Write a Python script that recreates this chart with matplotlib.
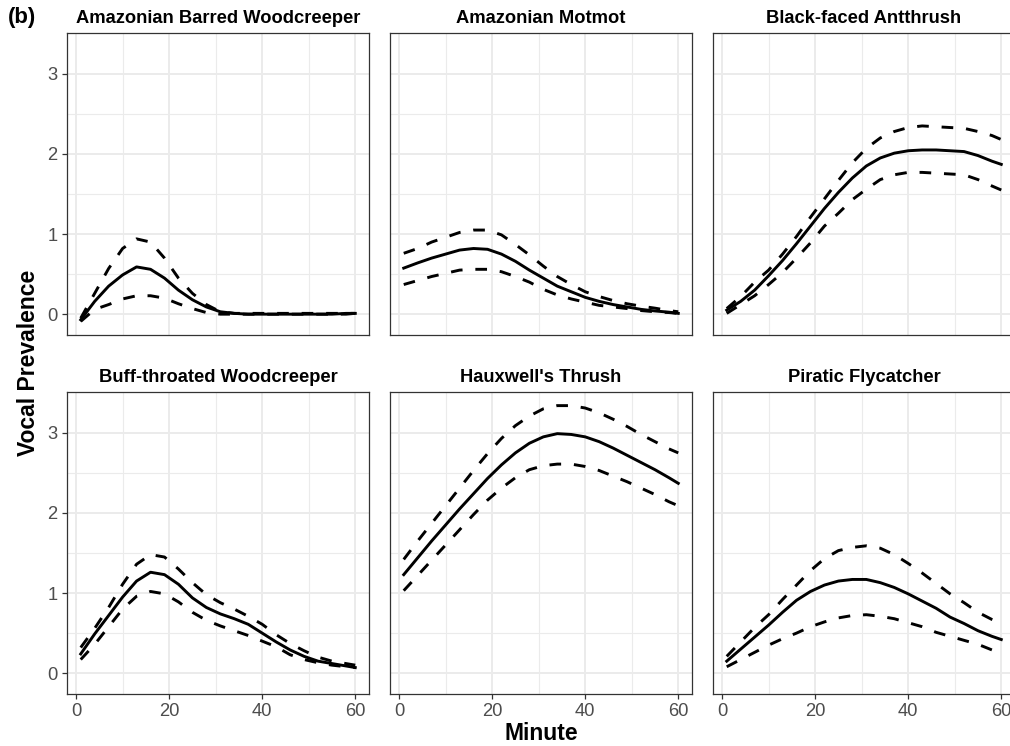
import matplotlib
matplotlib.use("Agg")
import matplotlib.pyplot as plt
from matplotlib.ticker import FixedLocator

plt.rcParams['font.family'] = ['Liberation Sans', 'DejaVu Sans']

# ---------------- data ----------------
minutes = [1, 4, 7, 10, 13, 16, 19, 22, 25, 28, 31, 34, 37, 40, 43, 46, 49, 52, 55, 58, 60]

species = ["Amazonian Barred Woodcreeper", "Amazonian Motmot", "Black-faced Antthrush",
           "Buff-throated Woodcreeper", "Hauxwell's Thrush", "Piratic Flycatcher"]

abw_mean = [-0.07, 0.16, 0.35, 0.49, 0.59, 0.56, 0.45, 0.30, 0.18, 0.09, 0.03, 0.01, 0.0, 0.0, 0.0, 0.0, 0.0, 0.0, 0.0, 0.01, 0.01]
abw_upper = [-0.05, 0.26, 0.57, 0.82, 0.94, 0.90, 0.70, 0.45, 0.26, 0.12, 0.03, 0.01, 0.01, 0.01, 0.01, 0.01, 0.01, 0.01, 0.01, 0.01, 0.01]
abw_lower = [-0.09, 0.06, 0.12, 0.19, 0.23, 0.23, 0.20, 0.13, 0.07, 0.02, 0.0, 0.0, 0.0, 0.0, 0.0, 0.0, 0.0, 0.0, 0.0, 0.0, 0.01]

mm_mean = [0.575, 0.64, 0.70, 0.75, 0.80, 0.82, 0.81, 0.75, 0.66, 0.55, 0.45, 0.35, 0.28, 0.21, 0.16, 0.12, 0.09, 0.06, 0.04, 0.025, 0.01]
mm_upper = [0.76, 0.82, 0.90, 0.96, 1.02, 1.05, 1.05, 0.99, 0.87, 0.74, 0.60, 0.47, 0.37, 0.28, 0.22, 0.17, 0.13, 0.10, 0.075, 0.045, 0.03]
mm_lower = [0.37, 0.42, 0.47, 0.51, 0.55, 0.56, 0.56, 0.53, 0.47, 0.40, 0.31, 0.24, 0.19, 0.15, 0.11, 0.09, 0.07, 0.045, 0.03, 0.02, 0.01]

bfa_mean = [0.05, 0.16, 0.30, 0.48, 0.67, 0.88, 1.10, 1.32, 1.52, 1.70, 1.85, 1.95, 2.01, 2.04, 2.05, 2.05, 2.04, 2.03, 1.98, 1.91, 1.87]
bfa_upper = [0.07, 0.22, 0.40, 0.55, 0.75, 0.97, 1.21, 1.44, 1.67, 1.89, 2.07, 2.20, 2.28, 2.33, 2.35, 2.34, 2.33, 2.32, 2.28, 2.23, 2.18]
bfa_lower = [0.01, 0.12, 0.23, 0.37, 0.52, 0.70, 0.89, 1.10, 1.26, 1.43, 1.56, 1.68, 1.74, 1.77, 1.77, 1.76, 1.75, 1.74, 1.68, 1.60, 1.55]

btw_mean = [0.24, 0.49, 0.72, 0.95, 1.15, 1.26, 1.23, 1.11, 0.94, 0.82, 0.74, 0.68, 0.61, 0.50, 0.39, 0.29, 0.21, 0.15, 0.12, 0.09, 0.07]
btw_upper = [0.32, 0.56, 0.82, 1.11, 1.36, 1.48, 1.45, 1.30, 1.13, 0.98, 0.88, 0.80, 0.71, 0.61, 0.48, 0.37, 0.28, 0.20, 0.15, 0.12, 0.10]
btw_lower = [0.17, 0.36, 0.58, 0.80, 0.96, 1.02, 0.99, 0.89, 0.76, 0.66, 0.59, 0.53, 0.47, 0.40, 0.33, 0.23, 0.17, 0.13, 0.10, 0.08, 0.07]

ht_mean = [1.23, 1.44, 1.65, 1.85, 2.05, 2.24, 2.43, 2.60, 2.75, 2.87, 2.95, 2.99, 2.98, 2.95, 2.89, 2.81, 2.72, 2.63, 2.54, 2.44, 2.37]
ht_upper = [1.42, 1.65, 1.87, 2.09, 2.31, 2.53, 2.74, 2.93, 3.09, 3.21, 3.30, 3.34, 3.34, 3.31, 3.25, 3.17, 3.08, 2.98, 2.89, 2.80, 2.75]
ht_lower = [1.03, 1.22, 1.41, 1.60, 1.79, 1.98, 2.16, 2.31, 2.44, 2.54, 2.59, 2.61, 2.61, 2.58, 2.53, 2.46, 2.39, 2.31, 2.23, 2.14, 2.09]

pf_mean = [0.15, 0.30, 0.45, 0.60, 0.76, 0.91, 1.02, 1.10, 1.15, 1.17, 1.17, 1.13, 1.07, 0.99, 0.90, 0.81, 0.70, 0.62, 0.53, 0.46, 0.42]
pf_upper = [0.21, 0.39, 0.57, 0.73, 0.92, 1.10, 1.28, 1.43, 1.53, 1.57, 1.59, 1.56, 1.48, 1.37, 1.25, 1.12, 0.99, 0.88, 0.76, 0.67, 0.62]
pf_lower = [0.08, 0.17, 0.26, 0.35, 0.43, 0.50, 0.58, 0.64, 0.69, 0.72, 0.73, 0.71, 0.68, 0.63, 0.58, 0.51, 0.46, 0.41, 0.36, 0.29, 0.26]

x_ticks = [0, 20, 40, 60]
y_ticks = [0, 1, 2, 3]

series = [
    (abw_mean, abw_upper, abw_lower),
    (mm_mean, mm_upper, mm_lower),
    (bfa_mean, bfa_upper, bfa_lower),
    (btw_mean, btw_upper, btw_lower),
    (ht_mean, ht_upper, ht_lower),
    (pf_mean, pf_upper, pf_lower),
]

# ---------------- layout ----------------
W, H = 1010, 746
fig = plt.figure(figsize=(W / 100, H / 100), dpi=100)
col_left = [67, 390, 713]
row_top = [33, 392]
pw, ph = 302, 302

GRID = '#EBEBEB'
BORDER = '#333333'
TICKTXT = '#4D4D4D'
DASH = (0, (4.0, 4.4))

for i, (name, (mean, upper, lower)) in enumerate(zip(species, series)):
    r, c = divmod(i, 3)
    ax = fig.add_axes([col_left[c] / W, 1 - (row_top[r] + ph) / H, pw / W, ph / H])
    ax.set_xlim(-1.95, 62.95)
    ax.set_ylim(-0.26, 3.51)
    ax.xaxis.set_major_locator(FixedLocator(x_ticks))
    ax.xaxis.set_minor_locator(FixedLocator([10, 30, 50]))
    ax.yaxis.set_major_locator(FixedLocator(y_ticks))
    ax.yaxis.set_minor_locator(FixedLocator([0.5, 1.5, 2.5]))
    ax.set_axisbelow(True)
    ax.grid(which='major', color=GRID, lw=1.4)
    ax.grid(which='minor', color=GRID, lw=0.8)
    for s in ax.spines.values():
        s.set_color(BORDER)
        s.set_linewidth(0.9)
    ax.tick_params(which='minor', length=0)
    ax.tick_params(which='major', length=3.8, width=0.9, color=BORDER,
                   labelsize=13.2, labelcolor=TICKTXT, pad=3)
    ax.tick_params(axis='x', bottom=(r == 1), labelbottom=(r == 1))
    ax.tick_params(axis='y', left=(c == 0), labelleft=(c == 0))

    ax.plot(minutes, upper, color='black', lw=2.1, ls=DASH)
    ax.plot(minutes, lower, color='black', lw=2.1, ls=DASH)
    ax.plot(minutes, mean, color='black', lw=2.1)

    ax.set_title(name, fontsize=13.2, fontweight='bold', pad=7)

fig.text(8 / W, 1 - 18 / H, '(b)', fontsize=16, fontweight='bold', ha='left', va='center')
fig.text(541 / W, 1 - 733 / H, 'Minute', fontsize=16.5, fontweight='bold', ha='center', va='center')
fig.text(29 / W, 1 - 363 / H, 'Vocal Prevalence', fontsize=16.5, fontweight='bold',
         ha='center', va='center', rotation=90)

fig.savefig('out.png', dpi=100)
